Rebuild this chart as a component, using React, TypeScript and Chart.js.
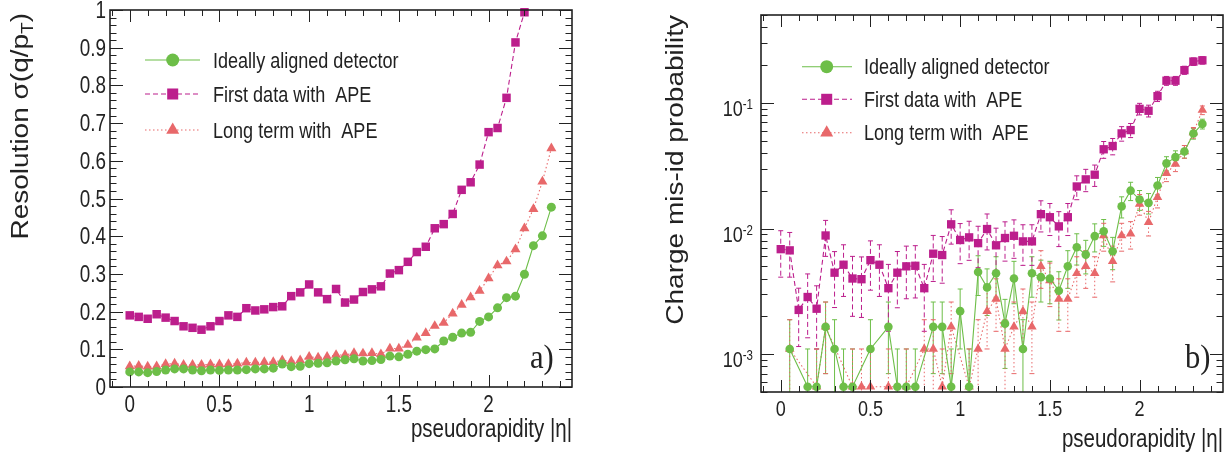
import React, { useEffect, useRef } from "react";
import { Chart, registerables } from "chart.js";

Chart.register(...registerables);

// ---------------- data ----------------
const ETA = [0, 0.05, 0.1, 0.15, 0.2, 0.25, 0.3, 0.35, 0.4, 0.45, 0.5, 0.55, 0.6, 0.65, 0.7, 0.75, 0.8, 0.85, 0.9, 0.95, 1, 1.05, 1.1, 1.15, 1.2, 1.25, 1.3, 1.35, 1.4, 1.45, 1.5, 1.55, 1.6, 1.65, 1.7, 1.75, 1.8, 1.85, 1.9, 1.95, 2, 2.05, 2.1, 2.15, 2.2, 2.25, 2.3, 2.35];

const LEGEND_LABELS = ["Ideally aligned detector", "First data with  APE", "Long term with  APE"];

// panel a) resolution sigma(q/pT)
const RES_IDEAL = [0.040, 0.040, 0.038, 0.041, 0.045, 0.048, 0.048, 0.045, 0.043, 0.045, 0.044, 0.045, 0.045, 0.046, 0.048, 0.048, 0.050, 0.061, 0.054, 0.055, 0.062, 0.063, 0.064, 0.069, 0.072, 0.075, 0.069, 0.070, 0.073, 0.082, 0.080, 0.087, 0.095, 0.099, 0.101, 0.122, 0.132, 0.143, 0.145, 0.174, 0.186, 0.210, 0.237, 0.241, 0.299, 0.375, 0.401, 0.477];
const RES_FIRST = [0.190, 0.186, 0.181, 0.193, 0.184, 0.175, 0.161, 0.157, 0.152, 0.161, 0.175, 0.190, 0.186, 0.209, 0.203, 0.206, 0.212, 0.214, 0.241, 0.251, 0.272, 0.251, 0.233, 0.260, 0.224, 0.232, 0.252, 0.259, 0.267, 0.301, 0.310, 0.332, 0.358, 0.372, 0.421, 0.432, 0.459, 0.523, 0.543, 0.590, 0.676, 0.687, 0.767, 0.914, 0.994, null, null, null];
const RES_LONG = [0.055, 0.056, 0.054, 0.055, 0.061, 0.062, 0.059, 0.059, 0.059, 0.060, 0.060, 0.061, 0.062, 0.065, 0.065, 0.066, 0.066, 0.071, 0.068, 0.071, 0.080, 0.078, 0.080, 0.085, 0.085, 0.090, 0.089, 0.090, 0.087, 0.102, 0.102, 0.112, 0.131, 0.143, 0.162, 0.170, 0.195, 0.218, 0.238, 0.255, 0.288, 0.323, 0.333, 0.365, 0.421, 0.472, 0.545, 0.633];

// panel b) charge mis-id probability
const MIS_IDEAL = [null, 1.1e-3, null, 5.5e-4, 5.5e-4, 1.65e-3, 1.1e-3, 5.5e-4, 5.5e-4, null, 1.1e-3, null, 1.65e-3, 5.5e-4, 5.5e-4, 5.5e-4, null, 1.65e-3, 1.65e-3, 5.5e-4, 2.2e-3, 5.5e-4, 4.5e-3, 3.4e-3, 4.4e-3, 1.75e-3, 4.0e-3, 1.1e-3, 4.4e-3, 4.1e-3, 4.0e-3, 3.2e-3, 5.0e-3, 7.1e-3, 6.2e-3, 8.7e-3, 9.5e-3, 6.6e-3, 1.5e-2, 2.0e-2, 1.7e-2, 1.6e-2, 2.2e-2, 3.3e-2, 3.7e-2, 4.1e-2, 5.7e-2, 6.8e-2];
const MIS_IDEAL_ERR = [0, 7.8e-4, 0, 5.5e-4, 5.5e-4, 9.5e-4, 7.8e-4, 5.5e-4, 5.5e-4, 0, 7.8e-4, 0, 9.5e-4, 5.5e-4, 5.5e-4, 5.5e-4, 0, 9.5e-4, 9.5e-4, 5.5e-4, 1.1e-3, 5.5e-4, 1.57e-3, 1.37e-3, 1.56e-3, 9.8e-4, 1.48e-3, 7.8e-4, 1.56e-3, 1.5e-3, 1.48e-3, 1.33e-3, 1.66e-3, 1.98e-3, 1.85e-3, 2.19e-3, 2.29e-3, 1.9e-3, 2.87e-3, 3.32e-3, 3.06e-3, 2.97e-3, 3.48e-3, 4.26e-3, 4.5e-3, 4.75e-3, 5.6e-3, 6.1e-3];
const MIS_FIRST = [6.85e-3, 6.7e-3, 2.25e-3, 2.85e-3, 2.3e-3, 8.8e-3, 4.45e-3, 5.15e-3, 4.0e-3, 3.95e-3, 5.6e-3, 5.15e-3, 3.35e-3, 4.45e-3, 5.0e-3, 5.05e-3, 3.35e-3, 6.3e-3, 6.15e-3, 1.08e-2, 8.1e-3, 8.5e-3, 7.65e-3, 9.9e-3, 7.35e-3, 8.4e-3, 8.75e-3, 7.9e-3, 7.9e-3, 1.3e-2, 1.23e-2, 1.04e-2, 1.23e-2, 2.16e-2, 2.46e-2, 2.68e-2, 4.27e-2, 4.53e-2, 5.71e-2, 6.07e-2, 8.96e-2, 8.65e-2, 0.113, 0.150, 0.150, 0.182, 0.213, 0.218];
const MIS_FIRST_ERR = [2.75e-3, 2.6e-3, 1.1e-3, 1.5e-3, 1.2e-3, 2.8e-3, 2.1e-3, 2.27e-3, 2.0e-3, 1.99e-3, 2.37e-3, 2.27e-3, 1.83e-3, 2.11e-3, 2.24e-3, 2.25e-3, 1.83e-3, 2.51e-3, 2.48e-3, 3.29e-3, 2.85e-3, 2.92e-3, 2.77e-3, 3.15e-3, 2.71e-3, 2.9e-3, 2.96e-3, 2.81e-3, 2.81e-3, 3.61e-3, 3.51e-3, 3.22e-3, 3.51e-3, 4.65e-3, 4.96e-3, 5.18e-3, 6.53e-3, 6.73e-3, 7.56e-3, 7.79e-3, 9.47e-3, 9.3e-3, 1.06e-2, 1.22e-2, 1.22e-2, 1.35e-2, 1.46e-2, 1.48e-2];
const MIS_LONG = [null, 1.1e-3, null, null, 5.5e-4, 1.65e-3, null, null, 5.5e-4, 5.5e-4, 5.5e-4, null, 5.5e-4, null, 5.5e-4, null, 1.1e-3, 1.1e-3, 5.5e-4, 1.65e-3, null, 5.5e-4, 1.1e-3, 2.2e-3, 2.75e-3, 1.1e-3, 1.65e-3, 2.2e-3, 1.65e-3, 5.0e-3, 3.85e-3, 2.75e-3, 2.75e-3, 4.4e-3, 5.0e-3, 4.4e-3, 8.8e-3, 5.5e-3, 8.8e-3, 9.1e-3, 1.57e-2, 1.12e-2, 1.77e-2, 2.75e-2, 3.26e-2, 4.1e-2, 5.8e-2, 8.75e-2];
const MIS_LONG_ERR = [0, 7.8e-4, 0, 0, 5.5e-4, 9.5e-4, 0, 0, 5.5e-4, 5.5e-4, 5.5e-4, 0, 5.5e-4, 0, 5.5e-4, 0, 7.8e-4, 7.8e-4, 5.5e-4, 9.5e-4, 0, 5.5e-4, 7.8e-4, 1.1e-3, 1.23e-3, 7.8e-4, 9.5e-4, 1.1e-3, 9.5e-4, 1.66e-3, 1.46e-3, 1.23e-3, 1.23e-3, 1.56e-3, 1.66e-3, 1.56e-3, 2.2e-3, 1.74e-3, 2.2e-3, 2.24e-3, 2.94e-3, 2.48e-3, 3.12e-3, 3.89e-3, 4.23e-3, 4.75e-3, 5.65e-3, 6.94e-3];

// axis ticks and labels
const X_TICKS = [0, 0.5, 1, 1.5, 2];
const RES_Y_TICKS = [0, 0.1, 0.2, 0.3, 0.4, 0.5, 0.6, 0.7, 0.8, 0.9, 1];
const MIS_Y_TICKS = [1e-3, 1e-2, 1e-1];
const MIS_Y_EXP = ["-3", "-2", "-1"];
const X_TITLE = "pseudorapidity |η|";
const RES_Y_TITLE = ["Resolution σ(q/p", "T", ")"];
const MIS_Y_TITLE = "Charge mis-id probability";

// ---------------- styles ----------------
const GREEN = "#6DBE48";
const MAGENTA = "#BC1E8C";
const SALMON = "#E8686A";
const INK = "#222222";
const SANS = "'Liberation Sans', Arial, Helvetica, sans-serif";
const SERIF = "'Liberation Serif', 'Times New Roman', serif";
const SQ = 0.82; // horizontal squeeze (Helvetica-narrow look)

Chart.defaults.font.family = SANS;

// ---------------- helpers ----------------
function squeezedText(ctx: any, text: string, x: number, y: number, align: string, sq: number) {
  ctx.save();
  ctx.translate(x, y);
  ctx.scale(sq, 1);
  ctx.textAlign = align;
  ctx.textBaseline = "alphabetic";
  ctx.fillText(text, 0, 0);
  ctx.restore();
}

function drawMarker(ctx: any, style: string, x: number, y: number, r: number, color: string) {
  ctx.save();
  ctx.fillStyle = color;
  ctx.beginPath();
  if (style === "circle") {
    ctx.arc(x, y, r, 0, Math.PI * 2);
  } else if (style === "rect") {
    const s = r * Math.SQRT1_2;
    ctx.rect(x - s, y - s, 2 * s, 2 * s);
  } else {
    ctx.moveTo(x, y - r);
    ctx.lineTo(x + r * 0.866, y + r * 0.5);
    ctx.lineTo(x - r * 0.866, y + r * 0.5);
    ctx.closePath();
  }
  ctx.fill();
  ctx.restore();
}

function series(label: string, ys: any[], errs: any, color: string, style: string, dash: number[], radius: number) {
  return {
    label,
    data: ETA.map((x, i) => ({ x, y: ys[i] === undefined ? null : ys[i] })),
    errors: errs,
    borderColor: color,
    backgroundColor: color,
    pointBackgroundColor: color,
    borderWidth: 1.1,
    borderDash: dash,
    pointStyle: style,
    pointRadius: radius,
    pointHoverRadius: radius,
    pointBorderWidth: 0,
    spanGaps: true,
    tension: 0,
    clip: 8,
  };
}

// error bars (drawn under the markers)
const errorBarPlugin = {
  id: "errBars",
  beforeDatasetsDraw(chart: any) {
    const { ctx, chartArea: a } = chart;
    const xs = chart.scales.x;
    const ys = chart.scales.y;
    chart.data.datasets.forEach((ds: any) => {
      const errs = ds.errors;
      if (!errs) return;
      ctx.save();
      ctx.beginPath();
      ctx.rect(a.left, a.top, a.right - a.left, a.bottom - a.top);
      ctx.clip();
      ctx.strokeStyle = ds.borderColor;
      ctx.lineWidth = 1;
      ds.data.forEach((p: any, i: number) => {
        const e = errs[i];
        if (p.y == null || !e) return;
        const px = xs.getPixelForValue(p.x);
        const top = ys.getPixelForValue(p.y + e);
        const lo = p.y - e;
        const hasLo = lo > ys.min;
        const bot = hasLo ? ys.getPixelForValue(lo) : a.bottom + 2;
        ctx.setLineDash(ds.borderDash || []);
        ctx.beginPath();
        ctx.moveTo(px, top);
        ctx.lineTo(px, bot);
        ctx.stroke();
        ctx.setLineDash([]);
        ctx.beginPath();
        ctx.moveTo(px - 2.5, top);
        ctx.lineTo(px + 2.5, top);
        if (hasLo) {
          ctx.moveTo(px - 2.5, bot);
          ctx.lineTo(px + 2.5, bot);
        }
        ctx.stroke();
      });
      ctx.restore();
    });
  },
};

// ROOT-like frame with inward ticks on all four sides
const framePlugin = {
  id: "rootFrame",
  afterDatasetsDraw(chart: any) {
    const { ctx, chartArea: a } = chart;
    const xs = chart.scales.x;
    const ys = chart.scales.y;
    ctx.save();
    ctx.strokeStyle = INK;
    ctx.lineWidth = 1;
    ctx.beginPath();
    for (let k = -20; k <= 40; k++) {
      const v = k / 10;
      if (v < xs.min - 1e-9 || v > xs.max + 1e-9) continue;
      const px = Math.round(xs.getPixelForValue(v)) + 0.5;
      const L = k % 5 === 0 ? 12 : 6;
      ctx.moveTo(px, a.bottom);
      ctx.lineTo(px, a.bottom - L);
      ctx.moveTo(px, a.top);
      ctx.lineTo(px, a.top + L);
    }
    const yt: Array<[number, boolean]> = [];
    if (ys.type === "logarithmic") {
      for (let n = -5; n <= 1; n++) {
        for (let k = 1; k <= 9; k++) {
          const v = k * Math.pow(10, n);
          if (v >= ys.min * 0.9999 && v <= ys.max * 1.0001) yt.push([v, k === 1]);
        }
      }
    } else {
      for (let k = 0; k <= 50; k++) yt.push([k / 50, k % 5 === 0]);
    }
    yt.forEach(([v, major]) => {
      const py = Math.round(ys.getPixelForValue(v)) + 0.5;
      const L = major ? 13 : 6.5;
      ctx.moveTo(a.left, py);
      ctx.lineTo(a.left + L, py);
      ctx.moveTo(a.right, py);
      ctx.lineTo(a.right - L, py);
    });
    ctx.stroke();
    ctx.lineWidth = 1.6;
    ctx.strokeRect(a.left, a.top, a.right - a.left, a.bottom - a.top);
    ctx.restore();
  },
};

// tick labels and x title, placed from the chart's scales
const axisTextPlugin = {
  id: "axisText",
  afterDraw(chart: any, _args: any, o: any) {
    const { ctx } = chart;
    const xs = chart.scales.x;
    const ys = chart.scales.y;
    ctx.save();
    ctx.fillStyle = INK;
    ctx.font = `${o.tickSize}px ${SANS}`;
    X_TICKS.forEach((v) => {
      squeezedText(ctx, String(v), xs.getPixelForValue(v), o.xLabelBase, "center", SQ);
    });
    if (o.log) {
      MIS_Y_TICKS.forEach((v, i) => {
        const py = ys.getPixelForValue(v);
        ctx.font = `${o.expSize}px ${SANS}`;
        const we = ctx.measureText(MIS_Y_EXP[i]).width * SQ;
        squeezedText(ctx, MIS_Y_EXP[i], o.yLabelRight - we, py + o.expDy, "left", SQ);
        ctx.font = `${o.tickSize}px ${SANS}`;
        squeezedText(ctx, "10", o.yLabelRight - we, py + o.baseDy, "right", SQ);
      });
    } else {
      ctx.font = `${o.tickSize}px ${SANS}`;
      RES_Y_TICKS.forEach((v) => {
        squeezedText(ctx, String(v), o.yLabelRight, ys.getPixelForValue(v) + o.yDy, "right", SQ);
      });
    }
    ctx.font = `${o.xTitleSize}px ${SANS}`;
    squeezedText(ctx, X_TITLE, chart.chartArea.right, o.xTitleBase, "right", SQ);
    ctx.restore();
  },
};

const legendPlugin = {
  id: "rootLegend",
  afterDraw(chart: any, _args: any, o: any) {
    const { ctx } = chart;
    chart.data.datasets.forEach((ds: any, i: number) => {
      const y = o.rows[i];
      ctx.save();
      ctx.strokeStyle = ds.borderColor;
      ctx.lineWidth = ds.borderWidth;
      ctx.setLineDash(ds.borderDash || []);
      ctx.beginPath();
      ctx.moveTo(o.x1, y);
      ctx.lineTo(o.x2, y);
      ctx.stroke();
      ctx.setLineDash([]);
      drawMarker(ctx, ds.pointStyle, o.xm, y, o.sizes[i], ds.backgroundColor);
      ctx.fillStyle = INK;
      ctx.font = `${o.size}px ${SANS}`;
      squeezedText(ctx, ds.label, o.xt, y + o.dy, "left", SQ);
      ctx.restore();
    });
  },
};

const panelLabelPlugin = {
  id: "panelLabel",
  afterDraw(chart: any, _args: any, o: any) {
    const { ctx } = chart;
    ctx.save();
    ctx.fillStyle = INK;
    ctx.font = `${o.size}px ${SERIF}`;
    squeezedText(ctx, o.text, o.x, o.y, "left", 0.9);
    ctx.restore();
  },
};

// rotated y title (optionally with a subscript)
const yTitlePlugin = {
  id: "yTitle",
  afterDraw(chart: any, _args: any, o: any) {
    if (!o || !o.parts) return;
    const { ctx } = chart;
    const [main, sub, tail] = o.parts;
    ctx.save();
    ctx.translate(o.x, o.y);
    ctx.rotate(-Math.PI / 2);
    ctx.scale(1, o.squeeze);
    ctx.fillStyle = INK;
    ctx.textBaseline = "alphabetic";
    ctx.textAlign = "left";
    const big = `${o.size}px ${SANS}`;
    const small = `${o.subSize}px ${SANS}`;
    ctx.font = big;
    const w1 = ctx.measureText(main).width;
    const w3 = tail ? ctx.measureText(tail).width : 0;
    ctx.font = small;
    const w2 = sub ? ctx.measureText(sub).width : 0;
    const x0 = -(w1 + w2 + w3);
    ctx.font = big;
    ctx.fillText(main, x0, 0);
    if (sub) {
      ctx.font = small;
      ctx.fillText(sub, x0 + w1, o.subShift);
    }
    if (tail) {
      ctx.font = big;
      ctx.fillText(tail, x0 + w1 + w2, 0);
    }
    ctx.restore();
  },
};

const PLUGINS = [errorBarPlugin, framePlugin, axisTextPlugin, legendPlugin, panelLabelPlugin, yTitlePlugin];

function xScale(axisHeight: number) {
  return {
    type: "linear",
    min: -0.11,
    max: 2.465,
    grid: { display: false, drawTicks: false },
    border: { display: false },
    ticks: { display: false },
    afterBuildTicks: (s: any) => {
      s.ticks = X_TICKS.map((value) => ({ value }));
    },
    afterFit: (s: any) => {
      s.height = axisHeight;
      s.paddingLeft = 0;
      s.paddingRight = 0;
    },
  };
}

function buildResolution(canvas: HTMLCanvasElement) {
  return new Chart(canvas, {
    type: "line",
    data: {
      datasets: [
        series(LEGEND_LABELS[0], RES_IDEAL, null, GREEN, "circle", [], 4.5),
        series(LEGEND_LABELS[1], RES_FIRST, null, MAGENTA, "rect", [5, 3], 6),
        series(LEGEND_LABELS[2], RES_LONG, null, SALMON, "triangle", [1.5, 2.5], 5.8),
      ] as any,
    },
    options: {
      animation: false,
      responsive: false,
      devicePixelRatio: 1,
      events: [],
      layout: { padding: { left: 0, right: 44, top: 10, bottom: 0 } },
      plugins: {
        legend: { display: false },
        tooltip: { enabled: false },
        rootLegend: { x1: 145, x2: 200, xm: 172.7, xt: 213, rows: [60, 94, 130], sizes: [6.5, 7.8, 7.5], size: 22, dy: 7.5 },
        panelLabel: { text: "a)", x: 530, y: 368, size: 34 },
        yTitle: { x: 28, y: 13, parts: RES_Y_TITLE, size: 28, subSize: 19, subShift: 6, squeeze: 0.88 },
        axisText: { tickSize: 23, xLabelBase: 412, yLabelRight: 106, yDy: 8, xTitleSize: 25, xTitleBase: 437 },
      } as any,
      scales: {
        x: xScale(68) as any,
        y: {
          type: "linear",
          min: 0,
          max: 1,
          grid: { display: false, drawTicks: false },
          border: { display: false },
          ticks: { display: false },
          afterBuildTicks: (s: any) => {
            s.ticks = RES_Y_TICKS.map((value) => ({ value }));
          },
          afterFit: (s: any) => {
            s.width = 110;
            s.paddingTop = 0;
            s.paddingBottom = 0;
          },
        } as any,
      },
    },
    plugins: PLUGINS as any,
  });
}

function buildMisId(canvas: HTMLCanvasElement) {
  return new Chart(canvas, {
    type: "line",
    data: {
      datasets: [
        series(LEGEND_LABELS[0], MIS_IDEAL, MIS_IDEAL_ERR, GREEN, "circle", [], 4.3),
        series(LEGEND_LABELS[1], MIS_FIRST, MIS_FIRST_ERR, MAGENTA, "rect", [5, 3], 5.9),
        series(LEGEND_LABELS[2], MIS_LONG, MIS_LONG_ERR, SALMON, "triangle", [1.5, 2.5], 5.5),
      ] as any,
    },
    options: {
      animation: false,
      responsive: false,
      devicePixelRatio: 1,
      events: [],
      layout: { padding: { left: 37, right: 9, top: 15, bottom: 0 } },
      plugins: {
        legend: { display: false },
        tooltip: { enabled: false },
        rootLegend: { x1: 186, x2: 236, xm: 210.7, xt: 248, rows: [66.7, 99.3, 132.7], sizes: [6.5, 7.8, 7.5], size: 22, dy: 7.5 },
        panelLabel: { text: "b)", x: 569, y: 368, size: 34 },
        yTitle: { x: 67, y: 15, parts: [MIS_Y_TITLE, "", ""], size: 28, subSize: 19, subShift: 6, squeeze: 0.88 },
        axisText: { log: true, tickSize: 22, expSize: 14, yLabelRight: 137, baseDy: 13, expDy: 6, xLabelBase: 416, xTitleSize: 25, xTitleBase: 447 },
      } as any,
      scales: {
        x: xScale(63) as any,
        y: {
          type: "logarithmic",
          min: 5e-4,
          max: 0.5,
          grid: { display: false, drawTicks: false },
          border: { display: false },
          ticks: { display: false },
          afterBuildTicks: (s: any) => {
            s.ticks = MIS_Y_TICKS.map((value) => ({ value }));
          },
          afterFit: (s: any) => {
            s.width = 108;
            s.paddingTop = 0;
            s.paddingBottom = 0;
          },
        } as any,
      },
    },
    plugins: PLUGINS as any,
  });
}

function ChartCanvas({ build, left }: { build: (c: HTMLCanvasElement) => Chart; left: number }) {
  const ref = useRef<HTMLCanvasElement | null>(null);
  useEffect(() => {
    if (!ref.current) return;
    const chart = build(ref.current);
    return () => chart.destroy();
  }, [build]);
  return (
    <canvas
      ref={ref}
      width={616}
      height={455}
      style={{ position: "absolute", left, top: 0, width: 616, height: 455 }}
    />
  );
}

export default function App() {
  return (
    <div
      style={{
        position: "absolute",
        left: 0,
        top: 0,
        width: 1232,
        height: 455,
        background: "#ffffff",
        overflow: "hidden",
      }}
    >
      <ChartCanvas build={buildResolution} left={0} />
      <ChartCanvas build={buildMisId} left={616} />
    </div>
  );
}
